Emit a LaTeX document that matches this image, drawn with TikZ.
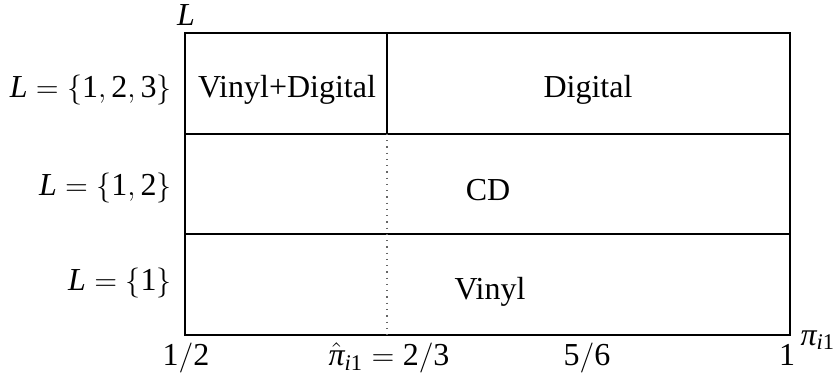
\documentclass[tikz,border=0pt]{standalone}
\usepackage{amsmath}
\usepackage{fontspec}
\setmainfont{Liberation Serif}
\newcommand\myi[1]{\text{\itshape #1}}
\newcommand\myn[1]{\text{\upshape #1}}
\begin{document}
\begin{tikzpicture}[x=0.4pt,y=-0.4pt,
  frame/.style={line width=0.8pt},
  lab/.style={font=\fontsize{12.8}{15}\selectfont, inner sep=0pt},
  guide/.style={dotted, line width=0.5pt, gray!80!black}]
\useasboundingbox (0,0) rectangle (837,384);
% corners
\coordinate (tl) at (185,33);
\coordinate (br) at (790,335);
\coordinate (r1l) at (185,134);
\coordinate (r1r) at (790,134);
\coordinate (r2l) at (185,234);
\coordinate (r2r) at (790,234);
\coordinate (vt) at (387,33);
\coordinate (vm) at (387,134);
\coordinate (vb) at (387,335);
\draw[frame] (tl) rectangle (br);
\draw[frame] (r1l) -- (r1r);
\draw[frame] (r2l) -- (r2r);
\draw[frame] (vt) -- (vm);
\draw[guide] (vm) -- (vb);
% cell labels
\node[lab] (vd) at (287,90) {Vinyl+Digital};
\node[lab] (dg) at (588,90) {Digital};
\node[lab] (cd) at (488,190) {CD};
\node[lab] (vn) at (490,292) {Vinyl};
% row labels
\node[lab,anchor=east] (l3) at (172,90) {$\myi{L}=\{\myn{1},\myn{2},\myn{3}\}$};
\node[lab,anchor=east] (l2) at (172,188) {$\myi{L}=\{\myn{1},\myn{2}\}$};
\node[lab,anchor=east] (l1) at (172,283) {$\myi{L}=\{\myn{1}\}$};
\node[lab] (L) at (186,15) {$\myi{L}$};
% axis labels
\node[lab] (x1) at (186,358) {$\myn{1}/\myn{2}$};
\node[lab] (x2) at (389,358) {$\hat{\myi{π}}_{\myi{i}\myn{1}}=\myn{2}/\myn{3}$};
\node[lab] (x3) at (587,358) {$\myn{5}/\myn{6}$};
\node[lab] (x4) at (787,355) {$\myn{1}$};
\node[lab] (pi) at (818,340) {$\myi{π}_{\myi{i}\myn{1}}$};
\end{tikzpicture}
\end{document}
